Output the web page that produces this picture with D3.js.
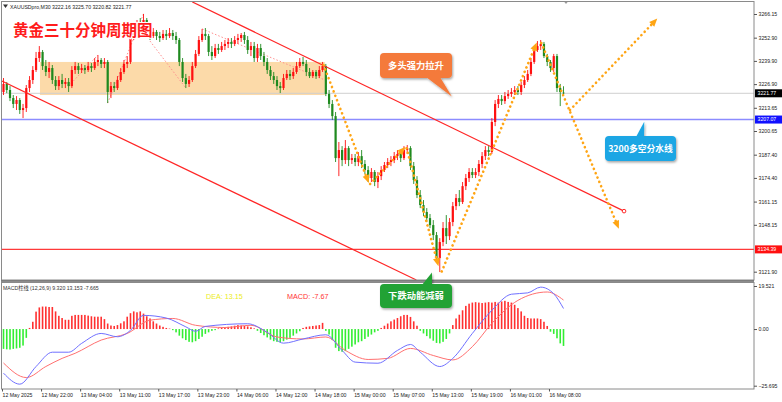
<!DOCTYPE html>
<html><head><meta charset="utf-8">
<script src="https://cdn.jsdelivr.net/npm/d3@7/dist/d3.min.js"></script>
<style>
body{margin:0;background:#fff;}
svg{display:block;font-family:"Liberation Sans",Arial,sans-serif;}
</style>
</head><body>
<svg id="c" width="782" height="402"></svg>
<script>
// ---------------- DATA ----------------
const symbolHeader = "XAUUSDpro,M30  3222.16 3225.70 3220.82 3221.77";
const chartTitle = "黄金三十分钟周期图";
const opens = [3222.5,3227.0,3223.6,3219.1,3215.8,3218.0,3212.4,3213.5,3224.7,3229.2,
3234.8,3241.5,3244.9,3237.0,3233.7,3235.9,3229.2,3225.8,3229.2,3227.0,
3228.1,3225.8,3234.8,3237.0,3234.8,3235.9,3234.8,3237.0,3235.9,3239.3,
3240.4,3238.2,3239.3,3222.5,3225.8,3224.7,3229.2,3233.7,3238.2,3239.3,
3252.7,3257.2,3260.6,3259.4,3262.8,3257.2,3253.8,3256.1,3253.8,3252.7,
3255.0,3253.8,3255.5,3253.8,3251.6,3239.3,3230.3,3227.0,3229.2,3237.0,
3243.8,3251.6,3255.0,3253.8,3244.9,3242.6,3247.1,3246.0,3248.2,3249.4,
3250.5,3249.4,3251.6,3252.7,3254.4,3251.6,3246.0,3248.2,3241.5,3247.1,
3242.6,3239.3,3234.8,3231.4,3229.2,3225.8,3224.7,3230.3,3232.6,3231.4,
3233.7,3237.0,3239.3,3238.2,3233.7,3231.4,3233.7,3231.4,3234.8,3237.0,
3221.4,3215.8,3209.0,3185.5,3190.0,3184.4,3191.1,3184.4,3185.5,3183.3,
3186.6,3182.2,3178.8,3174.3,3177.7,3172.1,3175.4,3178.8,3181.6,3183.3,
3184.4,3186.6,3187.8,3185.5,3190.0,3191.1,3181.0,3173.2,3164.8,3159.2,
3155.3,3151.9,3148.0,3142.4,3129.5,3138.5,3146.3,3141.8,3149.7,3158.6,
3163.1,3160.9,3169.8,3174.3,3177.7,3176.0,3177.7,3182.2,3186.6,3190.0,
3188.9,3205.7,3215.8,3218.6,3217.4,3220.2,3221.4,3222.5,3223.6,3222.5,
3226.4,3229.2,3232.6,3239.3,3246.0,3248.2,3249.4,3242.6,3239.3,3235.9,
3242.6,3224.7,3222.16];
const highs = [3230.3,3228.1,3225.8,3220.8,3220.2,3219.1,3215.8,3226.4,3231.4,3237.0,
3244.9,3248.2,3246.0,3240.4,3239.3,3237.6,3231.4,3231.4,3232.6,3230.3,
3230.3,3237.0,3239.3,3238.7,3238.2,3237.6,3239.3,3238.7,3241.5,3243.2,
3241.5,3241.5,3240.4,3228.1,3228.1,3231.4,3235.9,3240.4,3242.6,3254.4,
3260.0,3262.8,3263.9,3266.2,3263.9,3258.3,3258.3,3257.2,3256.1,3257.2,
3257.2,3258.3,3257.2,3256.1,3252.7,3241.5,3232.6,3231.4,3239.3,3246.0,
3253.8,3257.8,3258.3,3255.0,3248.2,3249.4,3249.4,3250.5,3251.6,3252.7,
3252.7,3253.8,3255.0,3255.5,3256.1,3253.8,3250.5,3250.5,3249.4,3249.4,
3244.9,3241.5,3237.0,3233.7,3231.4,3228.1,3232.6,3234.8,3234.8,3235.9,
3239.3,3241.5,3242.1,3240.4,3235.9,3234.8,3234.8,3237.0,3239.3,3238.2,
3223.6,3218.0,3211.3,3194.5,3192.2,3195.6,3192.2,3187.8,3187.8,3188.9,
3190.0,3184.4,3181.0,3179.9,3178.8,3177.7,3181.0,3183.3,3185.5,3186.6,
3188.9,3190.0,3190.0,3192.2,3192.8,3192.2,3183.3,3175.4,3167.6,3162.0,
3157.5,3154.2,3150.8,3144.1,3140.7,3149.7,3153.6,3151.9,3160.9,3165.4,
3167.6,3172.1,3176.6,3179.9,3179.9,3179.9,3184.4,3188.9,3192.2,3192.2,
3207.9,3218.0,3220.8,3220.8,3222.5,3223.6,3224.7,3225.8,3225.8,3228.1,
3231.4,3234.8,3241.5,3247.7,3251.0,3251.6,3250.5,3243.8,3240.4,3243.8,
3243.8,3227.0,3225.70];
const lows = [3220.8,3221.9,3217.4,3213.5,3212.4,3210.2,3207.9,3211.3,3222.5,3227.0,
3233.7,3239.3,3234.8,3231.4,3230.3,3227.0,3223.6,3223.6,3224.7,3224.7,
3222.5,3224.7,3232.6,3232.6,3233.1,3232.6,3233.7,3233.7,3234.8,3237.0,
3235.9,3235.9,3216.3,3219.1,3222.5,3223.6,3228.1,3232.6,3235.9,3238.2,
3251.6,3255.0,3257.2,3258.3,3255.0,3251.6,3252.7,3251.6,3250.5,3251.6,
3251.6,3252.7,3251.6,3249.4,3237.0,3228.1,3224.7,3225.3,3228.1,3235.9,
3242.6,3250.5,3251.6,3242.6,3240.4,3241.5,3243.8,3244.9,3246.0,3247.1,
3247.1,3248.2,3249.4,3250.5,3249.4,3243.8,3242.6,3239.3,3239.3,3240.4,
3237.0,3232.6,3229.2,3227.0,3223.6,3221.9,3223.6,3229.2,3229.2,3229.8,
3232.6,3235.9,3237.0,3231.4,3230.3,3230.3,3229.8,3230.3,3233.7,3220.2,
3213.5,3206.8,3183.3,3175.4,3181.0,3182.2,3181.0,3182.2,3181.0,3181.0,
3179.9,3176.6,3172.1,3172.1,3169.8,3168.7,3173.2,3177.7,3179.9,3181.0,
3182.7,3184.4,3183.3,3184.4,3187.8,3178.8,3171.0,3163.1,3157.5,3153.0,
3149.7,3146.3,3139.6,3127.3,3121.7,3136.2,3137.4,3139.6,3147.4,3156.4,
3158.6,3159.8,3167.6,3172.1,3174.3,3174.3,3175.4,3179.9,3184.4,3186.6,
3187.8,3203.4,3213.5,3215.2,3215.8,3218.6,3219.7,3220.8,3220.8,3220.8,
3224.7,3228.1,3231.4,3238.2,3244.9,3246.0,3241.5,3237.0,3233.7,3233.7,
3222.5,3214.6,3220.82];
const closes = [3227.0,3223.6,3219.1,3215.8,3218.0,3212.4,3213.5,3224.7,3229.2,3234.8,
3241.5,3244.9,3237.0,3233.7,3235.9,3229.2,3225.8,3229.2,3227.0,3228.1,
3225.8,3234.8,3237.0,3234.8,3235.9,3234.8,3237.0,3235.9,3239.3,3240.4,
3238.2,3239.3,3222.5,3225.8,3224.7,3229.2,3233.7,3238.2,3239.3,3252.7,
3257.2,3260.6,3259.4,3262.8,3257.2,3253.8,3256.1,3253.8,3252.7,3255.0,
3253.8,3255.5,3253.8,3251.6,3239.3,3230.3,3227.0,3229.2,3237.0,3243.8,
3251.6,3255.0,3253.8,3244.9,3242.6,3247.1,3246.0,3248.2,3249.4,3250.5,
3249.4,3251.6,3252.7,3254.4,3251.6,3246.0,3248.2,3241.5,3247.1,3242.6,
3239.3,3234.8,3231.4,3229.2,3225.8,3224.7,3230.3,3232.6,3231.4,3233.7,
3237.0,3239.3,3238.2,3233.7,3231.4,3233.7,3231.4,3234.8,3237.0,3221.4,
3215.8,3209.0,3185.5,3190.0,3184.4,3191.1,3184.4,3185.5,3183.3,3186.6,
3182.2,3178.8,3174.3,3177.7,3172.1,3175.4,3178.8,3181.6,3183.3,3184.4,
3186.6,3187.8,3185.5,3190.0,3191.1,3181.0,3173.2,3164.8,3159.2,3155.3,
3151.9,3148.0,3142.4,3129.5,3138.5,3146.3,3141.8,3149.7,3158.6,3163.1,
3160.9,3169.8,3174.3,3177.7,3176.0,3177.7,3182.2,3186.6,3190.0,3188.9,
3205.7,3215.8,3218.6,3217.4,3220.2,3221.4,3222.5,3223.6,3222.5,3226.4,
3229.2,3232.6,3239.3,3246.0,3248.2,3249.4,3242.6,3239.3,3235.9,3242.6,
3224.7,3222.5,3221.77];

const priceTicks = [3266.15,3252.90,3239.90,3226.90,3213.65,3200.65,3187.40,3174.40,3161.15,3148.15,3121.90];
const currentPrice = 3221.77;
const bullBearLine = 3207.07;
const supportLine = 3134.39;

const timeLabels = ["12 May 2025","12 May 22:00","13 May 04:00","13 May 11:00","13 May 17:00",
"13 May 23:00","14 May 06:00","14 May 12:00","14 May 18:00","15 May 00:00",
"15 May 07:00","15 May 13:00","15 May 19:00","16 May 01:00","16 May 08:00"];
const timeLabelBars = [0,12,24,36,48,60,72,84,96,108,120,132,144,156,168];

// MACD histogram (2*(DIF-DEA)), one value per bar
const macdHist = [-9.0,-9.2,-9.3,-9.0,-8.8,-8.5,-7.5,-4.0,0.5,3.3,
7.9,9.8,10.2,10.2,10.0,10.0,8.0,6.0,5.0,4.2,
4.2,6.0,6.4,6.4,6.4,6.4,6.1,5.8,5.6,5.6,
5.6,4.5,2.5,1.6,1.4,1.8,2.6,3.5,5.6,7.2,
8.0,7.6,8.0,7.0,5.8,4.8,3.5,2.5,1.6,1.0,
0.5,0.2,-0.5,-1.5,-3.0,-4.2,-5.0,-5.8,-6.0,-5.5,
-4.5,-3.5,-2.2,-1.5,-0.8,-0.5,0.3,0.5,0.8,1.0,
1.2,1.5,1.8,1.6,1.4,1.2,0.8,0.3,-0.8,-1.8,
-2.8,-3.8,-4.8,-5.5,-5.8,-6.0,-5.5,-4.8,-4.0,-3.0,
-2.0,-1.0,0.5,1.0,1.2,1.4,1.6,1.8,2.8,-0.8,
-2.5,-5.0,-8.5,-10.0,-10.3,-10.0,-9.0,-8.0,-7.0,-6.0,
-5.5,-4.5,-3.5,-2.5,-1.5,-0.8,0.5,1.5,2.5,3.5,
4.3,5.0,5.8,6.4,6.4,5.5,3.5,1.5,-0.8,-2.0,
-3.2,-4.3,-5.3,-6.3,-6.5,-5.8,-4.5,-2.0,1.8,4.8,
6.5,8.5,10.5,11.5,12.0,12.2,12.0,11.8,12.0,12.2,
12.0,12.3,12.0,12.5,12.8,12.3,12.0,11.0,9.5,8.0,
6.0,5.0,4.8,4.8,4.8,4.5,3.3,1.4,-1.2,-2.2,
-4.2,-6.5,-7.665];
// DIF (blue) and DEA (red) lines, read at bar positions [bar, value]
const difLine = [[0,-20],[5,-25],[10,-17],[15,-10.5],[20,-10.5],[24,-6.5],[30,-2],[35,-3.5],[39,-0.6],[43,6.2],
[50,5],[56,1],[59,-1],[62,1.2],[75,2.4],[81,-1.5],[86,-6.4],[92,-4.5],[99,-2.6],[104,-9.7],
[108,-15],[115,-15.5],[121,-9.7],[125,-7],[128,-10.5],[134,-17],[138,-13.3],[144,-2],[150,8.5],[156,15.8],
[161,16.4],[165,19],[169,16],[172,9.32]];
const deaLine = [[0,-15.4],[7,-22],[13,-17],[18,-13.3],[22,-11],[30,-5],[38,-2],[45,4],[52,4.8],[59,1.7],
[68,0.7],[76,1.7],[84,-3.6],[92,-4.5],[99,-3.6],[105,-9.7],[112,-13.8],[118,-13.3],[125,-8.8],[132,-12],
[138,-14],[144,-8],[150,2.6],[158,13],[167,16.8],[172,13.153]];
const macdTicks = [19.521, 0, -25.695];
const macdLabel = "MACD柱线 (12,26,9) 9.320 13.153 -7.665";
const deaText = "DEA:  13.15";
const macdText = "MACD: -7.67";

// drawn analysis objects, in [bar, price]
const consolidationZone = {from: 11.2, to: 98.7, low: 3220.8, high: 3239.3};
const trendLines = [
  [[58.0, 3272.9],[190.6, 3155.8]],
  [[-0.5, 3228.6],[126.8, 3117.3]]
];
const zigzagLines = [
  [[20, 3225.8],[29, 3243.2]],
  [[32, 3216.3],[43, 3266.2]],
  [[45, 3251.0],[56, 3224.7]],
  [[61, 3257.8],[99, 3229.0]]
];
const forecastArrows = [
  [[98.3, 3237.6],[112.2, 3171.5]],
  [[112.6, 3171.0],[123.4, 3191.7]],
  [[123.8, 3191.0],[133.6, 3125.0]],
  [[134.6, 3122.0],[163.8, 3250.2]],
  [[165.2, 3249.9],[189.0, 3146.0]],
  [[174.0, 3212.4],[200.8, 3263.6]]
];
const callouts = [
  {text:"多头强力拉升", tip:[137.7, 3219.9], color:"#f47a3a", box:[380,53,72,25], base:[426,440], size:9.3},
  {text:"3200多空分水线", tip:[196.8, 3205.8], color:"#1aa6e4", box:[605,136,71,25], base:[636,644], size:8.8},
  {text:"下跌动能减弱", tip:[131.6, 3121.4], color:"#22a235", box:[380,284,72,24], base:[422,432], size:9.3}
];

// ---------------- DRAW ----------------
const svg = d3.select('#c');
const PL=2, PR=754, PT=2, PB=280, MT=283, MB=389;
const x = d3.scaleLinear().domain([0,172]).range([3.5,563.5]);
const y = d3.scaleLinear().domain([3121.90,3266.15]).range([271.7,14]);
const ym = d3.scaleLinear().domain([-25.695,19.521]).range([385.7,286]);

const defs = svg.append('defs');
defs.append('clipPath').attr('id','mainClip').append('rect').attr('x',PL).attr('y',PT).attr('width',PR-PL).attr('height',PB-PT);
defs.append('clipPath').attr('id','macdClip').append('rect').attr('x',PL).attr('y',MT).attr('width',PR-PL).attr('height',MB-MT);
const sh = defs.append('filter').attr('id','shadow').attr('x','-20%').attr('y','-30%').attr('width','150%').attr('height','170%');
sh.append('feDropShadow').attr('dx',1).attr('dy',1.5).attr('stdDeviation',1.2).attr('flood-color','#000').attr('flood-opacity',0.35);

svg.append('rect').attr('width',782).attr('height',402).attr('fill','#fff');

const main = svg.append('g').attr('clip-path','url(#mainClip)');

// zone
main.append('rect')
  .attr('x', x(consolidationZone.from)).attr('width', x(consolidationZone.to)-x(consolidationZone.from))
  .attr('y', y(consolidationZone.high)).attr('height', y(consolidationZone.low)-y(consolidationZone.high))
  .attr('fill','#fcd6a0').attr('opacity',0.9);

// horizontal levels
main.append('line').attr('x1',PL).attr('x2',PR).attr('y1',y(currentPrice)).attr('y2',y(currentPrice)).attr('stroke','#cfcfcf').attr('stroke-width',1);
main.append('line').attr('x1',PL).attr('x2',PR).attr('y1',y(bullBearLine)).attr('y2',y(bullBearLine)).attr('stroke','#8c8cff').attr('stroke-width',1.4);
main.append('line').attr('x1',PL).attr('x2',PR).attr('y1',y(supportLine)).attr('y2',y(supportLine)).attr('stroke','#ff3a3a').attr('stroke-width',1.3);

// zigzag
zigzagLines.forEach(s=>{
  main.append('line').attr('x1',x(s[0][0])).attr('y1',y(s[0][1])).attr('x2',x(s[1][0])).attr('y2',y(s[1][1]))
    .attr('stroke','#ff8f8f').attr('stroke-width',1).attr('stroke-dasharray','1.5,2');
});

// candles
const bars = d3.range(closes.length);
const up = i => closes[i] >= opens[i];
const RED = '#ff1010', GRN = '#1f8a1f';
main.append('g').selectAll('line').data(bars).join('line')
  .attr('x1',i=>x(i)).attr('x2',i=>x(i)).attr('y1',i=>y(highs[i])).attr('y2',i=>y(lows[i]))
  .attr('stroke',i=>up(i)?RED:GRN).attr('stroke-width',0.9);
main.append('g').selectAll('rect').data(bars).join('rect')
  .attr('x',i=>x(i)-1.1).attr('width',2.2)
  .attr('y',i=>y(Math.max(opens[i],closes[i])))
  .attr('height',i=>Math.max(0.8, Math.abs(y(opens[i])-y(closes[i]))))
  .attr('fill',i=>up(i)?RED:GRN);

// trend lines
trendLines.forEach((t,k)=>{
  main.append('line').attr('x1',x(t[0][0])).attr('y1',y(t[0][1])).attr('x2',x(t[1][0])).attr('y2',y(t[1][1]))
    .attr('stroke','#ff2626').attr('stroke-width',1.2);
  if(k===0) main.append('circle').attr('cx',x(t[1][0])).attr('cy',y(t[1][1])).attr('r',1.8).attr('fill','#fff').attr('stroke','#ff2626').attr('stroke-width',1);
});

// forecast arrows
const ORANGE = '#ffa514';
forecastArrows.forEach(a=>{
  const x1=x(a[0][0]), y1=y(a[0][1]), x2=x(a[1][0]), y2=y(a[1][1]);
  const ang=Math.atan2(y2-y1,x2-x1), L=8, Wd=3.5;
  const bx=x2-L*Math.cos(ang), by=y2-L*Math.sin(ang);
  main.append('line').attr('x1',x1).attr('y1',y1).attr('x2',bx).attr('y2',by)
    .attr('stroke',ORANGE).attr('stroke-width',2.6).attr('stroke-linecap','round').attr('stroke-dasharray','0.1,4.6');
  const px=-Math.sin(ang), py=Math.cos(ang);
  main.append('path').attr('d',`M${x2},${y2}L${bx+px*Wd},${by+py*Wd}L${bx-px*Wd},${by-py*Wd}Z`).attr('fill',ORANGE);
});

// title & header
svg.append('path').attr('d','M3,4.5L8,4.5L5.5,8Z').attr('fill','#333');
svg.append('text').attr('x',10).attr('y',8.5).attr('font-size',5.2).attr('fill','#222').text(symbolHeader);
svg.append('text').attr('x',13).attr('y',36).attr('font-size',15.5).attr('font-weight','bold')
  .attr('font-family','"Noto Sans CJK SC",sans-serif').attr('fill','#ff1c1c')
  .attr('stroke','#fff').attr('stroke-width',2).attr('paint-order','stroke').text(chartTitle);
svg.append('path').attr('d','M564,1.5L568,1.5L566,4Z').attr('fill','#999');

// MACD panel
const mg = svg.append('g').attr('clip-path','url(#macdClip)');
mg.append('g').selectAll('rect').data(bars).join('rect')
  .attr('x',i=>x(i)-0.8).attr('width',1.6)
  .attr('y',i=>Math.min(ym(0),ym(macdHist[i])))
  .attr('height',i=>Math.abs(ym(macdHist[i])-ym(0)))
  .attr('fill',i=>macdHist[i]>=0?'#ff3030':'#33ee33');
const lineGen = d3.line().x(d=>x(d[0])).y(d=>ym(d[1])).curve(d3.curveMonotoneX);
mg.append('path').datum(deaLine).attr('d',lineGen).attr('fill','none').attr('stroke','#ff7070').attr('stroke-width',1);
mg.append('path').datum(difLine).attr('d',lineGen).attr('fill','none').attr('stroke','#7070ff').attr('stroke-width',1);
svg.append('text').attr('x',3).attr('y',289.5).attr('font-size',5.2).attr('fill','#333')
  .attr('font-family','"Liberation Sans","Noto Sans CJK SC",sans-serif').text(macdLabel);
svg.append('text').attr('x',206).attr('y',298.5).attr('font-size',7.2).attr('fill','#ecec1a').text(deaText);
svg.append('text').attr('x',287).attr('y',298.5).attr('font-size',7.2).attr('fill','#ff3333').text(macdText);

// frames
svg.append('rect').attr('x',1.5).attr('y',1.5).attr('width',PR-1.5).attr('height',PB-1.5).attr('fill','none').attr('stroke','#8a8a8a').attr('stroke-width',1);
svg.append('line').attr('x1',1).attr('x2',PR).attr('y1',281).attr('y2',281).attr('stroke','#666').attr('stroke-width',1.5);
svg.append('rect').attr('x',1.5).attr('y',MT-0.5).attr('width',PR-1.5).attr('height',MB-MT+0.5).attr('fill','none').attr('stroke','#8a8a8a').attr('stroke-width',1);

// price axis
const pAxis = d3.axisRight(y).tickValues(priceTicks).tickSize(3).tickPadding(1.5).tickFormat(d3.format('.2f'));
const pa = svg.append('g').attr('transform',`translate(${PR},0)`).call(pAxis);
pa.select('.domain').remove();
pa.selectAll('line').attr('stroke','#555');
pa.selectAll('text').attr('font-size',5.2).attr('fill','#222').attr('font-family','"Liberation Sans",Arial,sans-serif');

const mAxis = d3.axisRight(ym).tickValues(macdTicks).tickSize(3).tickPadding(1.5).tickFormat(d=>d===0?'0.00':d3.format('.3f')(d));
const ma = svg.append('g').attr('transform',`translate(${PR},0)`).call(mAxis);
ma.select('.domain').remove();
ma.selectAll('line').attr('stroke','#555');
ma.selectAll('text').attr('font-size',5.2).attr('fill','#222').attr('font-family','"Liberation Sans",Arial,sans-serif');

// price boxes
[[currentPrice,'#000'],[bullBearLine,'#1010ff'],[supportLine,'#ff1010']].forEach(([p,c])=>{
  svg.append('rect').attr('x',PR+1).attr('y',y(p)-4).attr('width',27).attr('height',8).attr('fill',c);
  svg.append('text').attr('x',PR+3.5).attr('y',y(p)+1.9).attr('font-size',5.2).attr('fill','#fff').text(d3.format('.2f')(p));
});

// time axis
const tAxis = d3.axisBottom(x).tickValues(timeLabelBars).tickSize(2.5).tickPadding(1.5).tickFormat((d,k)=>timeLabels[k]);
const ta = svg.append('g').attr('transform',`translate(0,${MB})`).call(tAxis);
ta.select('.domain').remove();
ta.selectAll('line').attr('stroke','#555').attr('transform','translate(-1.5,0)');
ta.selectAll('text').attr('text-anchor','start').attr('dx',-1.5).attr('font-size',5.2).attr('fill','#222').attr('font-family','"Liberation Sans",Arial,sans-serif');

// callouts
callouts.forEach(c=>{
  const [bx,by,bw,bh]=c.box;
  const tx=x(c.tip[0]), ty=y(c.tip[1]);
  const g = svg.append('g').attr('filter','url(#shadow)');
  const baseY = ty>by ? by+bh-1 : by+1;
  g.append('path').attr('d',`M${c.base[0]},${baseY}L${tx},${ty}L${c.base[1]},${baseY}Z`).attr('fill',c.color);
  g.append('rect').attr('x',bx).attr('y',by).attr('width',bw).attr('height',bh).attr('rx',4).attr('fill',c.color);
  svg.append('text').attr('x',bx+bw/2).attr('y',by+bh/2+c.size*0.36).attr('text-anchor','middle')
    .attr('font-size',c.size).attr('font-weight','bold').attr('fill','#fff')
    .attr('font-family','"Noto Sans CJK SC",sans-serif').text(c.text);
});
</script>
</body></html>
